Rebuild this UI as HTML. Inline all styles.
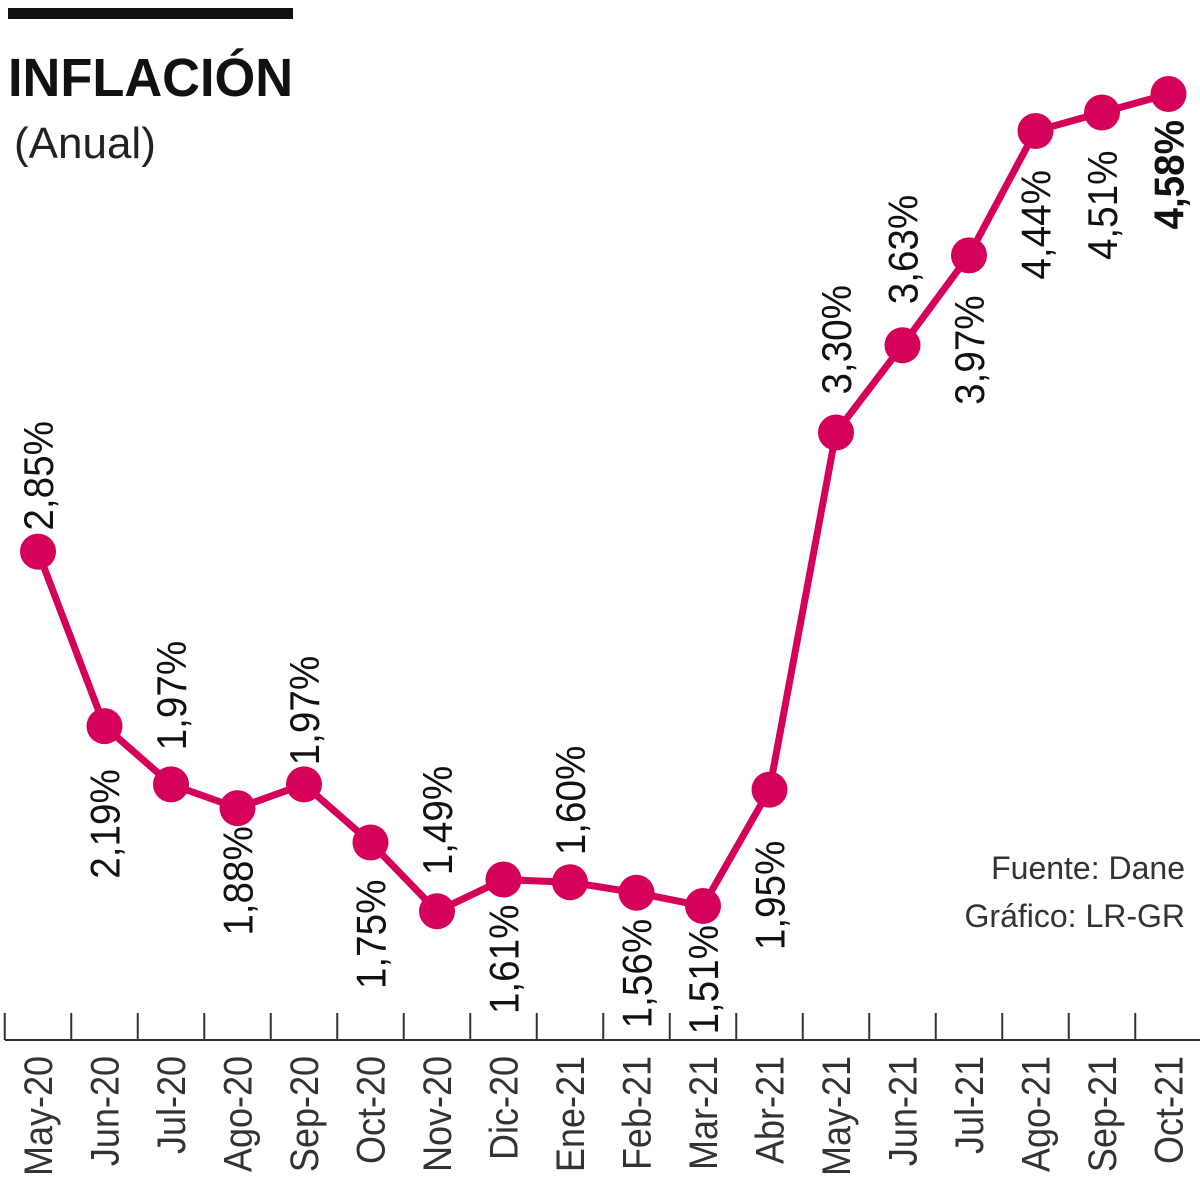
<!DOCTYPE html>
<html><head><meta charset="utf-8"><style>
html,body{margin:0;padding:0;background:#fff;}
svg{display:block;font-family:"Liberation Sans",sans-serif;}
</style></head><body>
<svg id="chart" width="1200" height="1188" viewBox="0 0 1200 1188">
<rect x="8" y="8" width="285" height="11" fill="#111"/>
<text x="8" y="96" font-size="54" font-weight="bold" fill="#111" transform="translate(8 0) scale(0.97 1) translate(-8 0)">INFLACIÓN</text>
<text x="14" y="158" font-size="44" fill="#222">(Anual)</text>
<text x="1185" y="879" font-size="32" fill="#333" text-anchor="end">Fuente: Dane</text>
<text x="1185" y="927" font-size="32" fill="#333" text-anchor="end">Gráfico: LR-GR</text>
<g id="axis"></g><g id="marks"></g><g id="labels"></g>
</svg>
<script>
const categories=["May-20","Jun-20","Jul-20","Ago-20","Sep-20","Oct-20","Nov-20","Dic-20","Ene-21","Feb-21","Mar-21","Abr-21","May-21","Jun-21","Jul-21","Ago-21","Sep-21","Oct-21"];
const values=[2.85,2.19,1.97,1.88,1.97,1.75,1.49,1.61,1.60,1.56,1.51,1.95,3.30,3.63,3.97,4.44,4.51,4.58];
const valueLabels=["2,85%","2,19%","1,97%","1,88%","1,97%","1,75%","1,49%","1,61%","1,60%","1,56%","1,51%","1,95%","3,30%","3,63%","3,97%","4,44%","4,51%","4,58%"];
const labelSide=["above","below","above","below","above","below","above","below","above","below","below","below","above","above","below","below","below","below"];
const labelGap=[21,43,34,18,19,37,36,25,27,26,19,51,38,41,40,39,38,26];
const NS="http://www.w3.org/2000/svg";
const step=66.5, x0=38;
function xScale(i){return x0+i*step;}
function yScale(v){return 1305.4-v*264.5;}
const axis=document.getElementById('axis'),marks=document.getElementById('marks'),labels=document.getElementById('labels');
function mk(tag,attrs,parent){const e=document.createElementNS(NS,tag);for(const k in attrs)e.setAttribute(k,attrs[k]);parent.appendChild(e);return e;}
const base=mk('line',{x1:5,x2:1200,y1:1040,y2:1040,stroke:'#333','stroke-width':2},axis);


for(let i=0;i<=categories.length;i++){
  const tx=xScale(i)-step/2;
  const t=mk('line',{x1:tx,x2:tx,y1:1013,y2:1040,stroke:'#333','stroke-width':2},axis);
  
  
}
categories.forEach((c,i)=>{
  const x=xScale(i)+14;
  const t=mk('text',{x:0,y:0,'font-size':40,fill:'#333','text-anchor':'end',transform:`translate(${x} 1056) rotate(-90) scale(0.9 1)`},axis);
  t.textContent=c;
  
  
});
const pts=values.map((v,i)=>xScale(i)+','+yScale(v)).join(' ');
const line=mk('polyline',{points:pts,fill:'none',stroke:'#d4005a','stroke-width':7,'stroke-linejoin':'round'},marks);


values.forEach((v,i)=>{
  const c=mk('circle',{cx:xScale(i),cy:yScale(v),r:18,fill:'#d4005a'},marks);
  
  
  const x=xScale(i)+15, y=yScale(v);
  const above=labelSide[i]==="above";
  const ly=above? y-labelGap[i] : y+labelGap[i];
  const last=i===values.length-1;
  const t=mk('text',{x:0,y:0,'font-size':42,fill:'#111','text-anchor':above?'start':'end','font-weight':last?'bold':'normal',transform:`translate(${x} ${ly}) rotate(-90) scale(0.92 1)`},labels);
  t.textContent=valueLabels[i];
  
  
});
</script>
</body></html>
